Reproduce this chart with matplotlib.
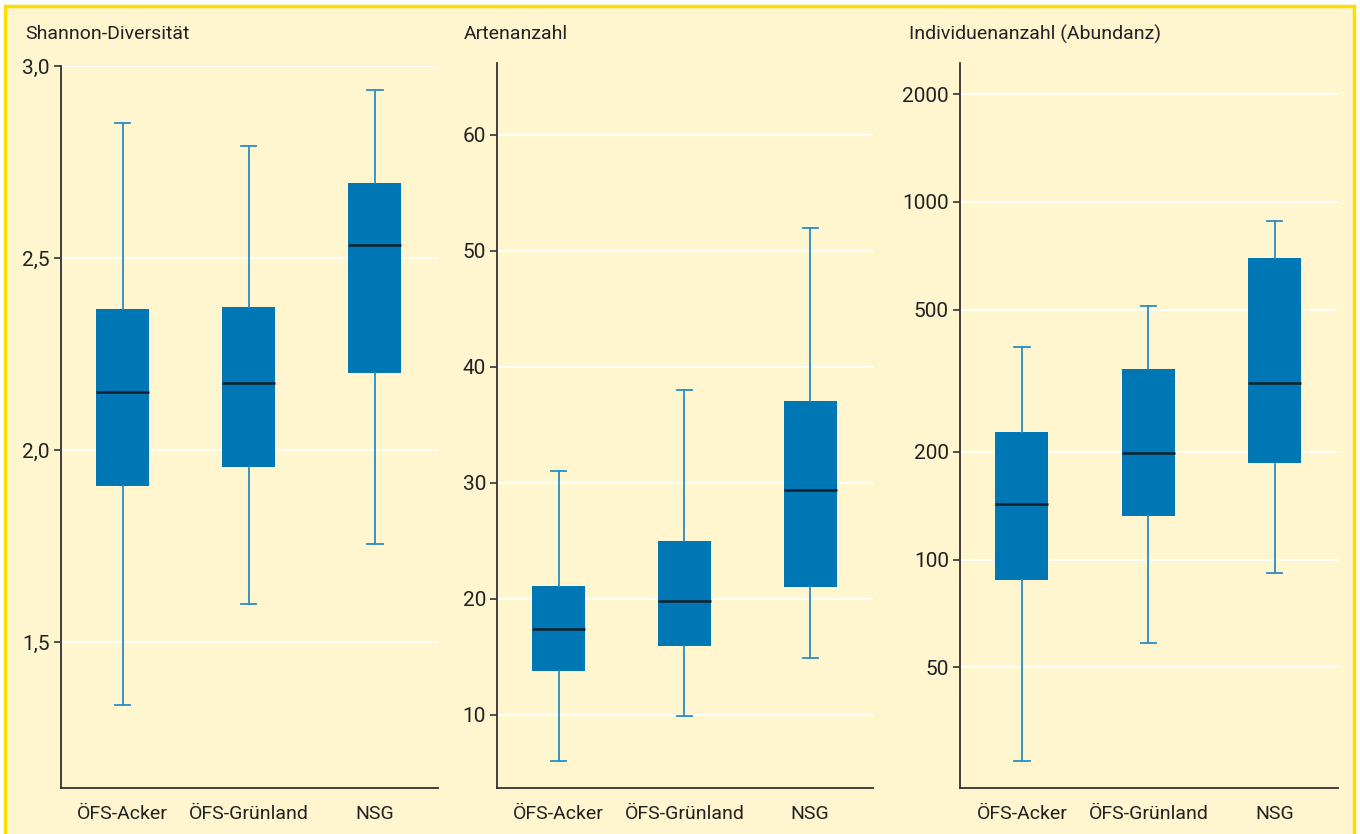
import matplotlib.pyplot as plt
from matplotlib.patches import Rectangle
from matplotlib.ticker import FixedLocator, FixedFormatter, NullLocator

plt.rcParams['font.family'] = ['Roboto', 'DejaVu Sans']

# 1. Data
groups = ['ÖFS-Acker', 'ÖFS-Grünland', 'NSG']

shannon_low = [1.336, 1.599, 1.755]
shannon_q1 = [1.906, 1.956, 2.201]
shannon_med = [2.151, 2.174, 2.534]
shannon_q3 = [2.367, 2.372, 2.695]
shannon_high = [2.852, 2.792, 2.937]

arten_low = [6.0, 9.9, 14.9]
arten_q1 = [13.8, 15.9, 21.0]
arten_med = [17.4, 19.8, 29.4]
arten_q3 = [21.1, 25.0, 37.1]
arten_high = [31.0, 38.0, 52.0]

abund_low = [27.4, 58.6, 91.6]
abund_q1 = [87.7, 132.4, 186]
abund_med = [143, 198.7, 311]
abund_q3 = [228, 342, 695]
abund_high = [394, 513, 881]

titles = ['Shannon-Diversität', 'Artenanzahl', 'Individuenanzahl (Abundanz)']
yticks = [[1.5, 2.0, 2.5, 3.0], [10, 20, 30, 40, 50, 60], [50, 100, 200, 500, 1000, 2000]]
ytick_labels = [['1,5', '2,0', '2,5', '3,0'],
                ['10', '20', '30', '40', '50', '60'],
                ['50', '100', '200', '500', '1000', '2000']]

# 2. Styling
bg = '#FFF5CF'
border = '#FFDD00'
box_col = '#0077B5'
whisk_col = '#2A8CC4'
dark = '#222222'

fig = plt.figure(figsize=(13.6, 8.34), dpi=100)
fig.patch.set_facecolor('white')
# cream panel with yellow frame (no bottom edge visible)
fig.patches.append(Rectangle((5 / 1360, -0.05), 1349 / 1360, 1.05 - 6 / 834,
                             transform=fig.transFigure, facecolor=bg,
                             edgecolor=border, linewidth=2.5, zorder=-1))

panels = [
    dict(low=shannon_low, q1=shannon_q1, med=shannon_med, q3=shannon_q3, high=shannon_high,
         rect=[61 / 1360, 46 / 834, 377 / 1360, 722 / 834], ylim=(1.12, 3.0), log=False, tx=25),
    dict(low=arten_low, q1=arten_q1, med=arten_med, q3=arten_q3, high=arten_high,
         rect=[497 / 1360, 46 / 834, 376 / 1360, 725 / 834], ylim=(3.7, 66.2), log=False, tx=464),
    dict(low=abund_low, q1=abund_q1, med=abund_med, q3=abund_q3, high=abund_high,
         rect=[960 / 1360, 46 / 834, 378 / 1360, 725 / 834], ylim=(23, 2443), log=True, tx=909),
]

for i, p in enumerate(panels):
    ax = fig.add_axes(p['rect'])
    ax.set_facecolor('none')
    if p['log']:
        ax.set_yscale('log')

    stats = []
    for j, g in enumerate(groups):
        stats.append(dict(label=g, whislo=p['low'][j], q1=p['q1'][j], med=p['med'][j],
                          q3=p['q3'][j], whishi=p['high'][j], fliers=[]))

    ax.bxp(stats, positions=[1, 2, 3], widths=0.42, capwidths=0.12, patch_artist=True,
           showfliers=False,
           boxprops=dict(facecolor=box_col, edgecolor=box_col, linewidth=0),
           medianprops=dict(color='#15202A', linewidth=1.8),
           whiskerprops=dict(color=whisk_col, linewidth=1.3),
           capprops=dict(color=whisk_col, linewidth=1.3), zorder=3)

    ax.set_xlim(0.51, 3.5)
    ax.set_ylim(*p['ylim'])
    ax.yaxis.set_major_locator(FixedLocator(yticks[i]))
    ax.yaxis.set_major_formatter(FixedFormatter(ytick_labels[i]))
    ax.yaxis.set_minor_locator(NullLocator())
    ax.grid(axis='y', color='white', linewidth=1.3, zorder=0)
    ax.set_axisbelow(True)

    for s in ['top', 'right']:
        ax.spines[s].set_visible(False)
    for s in ['left', 'bottom']:
        ax.spines[s].set_color('#333333')
        ax.spines[s].set_linewidth(1.3)

    ax.tick_params(axis='y', length=5, width=1.2, color='#333333', labelsize=15,
                   labelcolor=dark, pad=3)
    ax.tick_params(axis='x', length=0, labelsize=14, labelcolor=dark, pad=12)

    fig.text(p['tx'] / 1360, 1 - 34 / 834, titles[i], fontsize=14, color=dark,
             ha='left', va='center')

plt.savefig('out.png', dpi=100, facecolor=fig.get_facecolor())
